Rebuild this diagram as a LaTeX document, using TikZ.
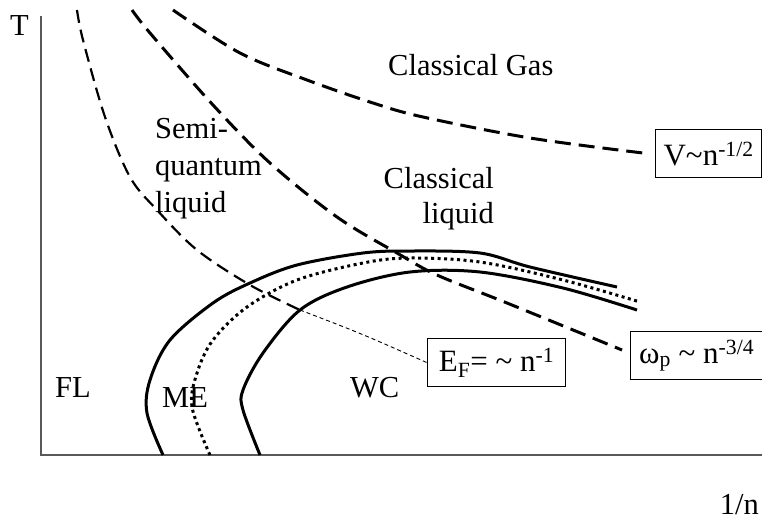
\documentclass[tikz,border=0pt]{standalone}
\usepackage{fontspec}
\setmainfont{Liberation Serif}
\begin{document}
\begin{tikzpicture}[x=1pt,y=-1pt,
  lbl/.style={font=\fontsize{30.5}{36}\selectfont, inner sep=0pt},
  bx/.style={draw, line width=1.3pt, font=\fontsize{31}{37}\selectfont, inner sep=0pt, anchor=north west, minimum height=48pt},
  axis/.style={line width=1.6pt, draw=black!65},
  thickdash/.style={line width=3pt, dash pattern=on 16pt off 8pt},
  thindash/.style={line width=2.2pt, dash pattern=on 13pt off 7pt},
  hairdash/.style={line width=0.9pt, dash pattern=on 4pt off 3pt},
  solidc/.style={line width=3pt},
  dotc/.style={line width=3pt, dash pattern=on 3pt off 3.5pt},
  smoothc/.style={smooth, tension=0.55}]
\useasboundingbox (0,0) rectangle (762,520);
\clip (0,0) rectangle (762,520);

% axes
\coordinate (o) at (41,455);
\coordinate (ytop) at (41,16);
\coordinate (xend) at (762,455);
\draw[axis] (ytop) -- (o) -- (xend);

% labels
\node[lbl, anchor=base west] (T) at (10,35) {T};
\node[lbl, anchor=base east] (xl) at (759,514) {1/n};
\node[lbl, anchor=base west] (gas) at (388,75) {Classical Gas};
\node[lbl, anchor=base west] (s1) at (155,138) {Semi-};
\node[lbl, anchor=base west] (s2) at (155,175) {quantum};
\node[lbl, anchor=base west] (s3) at (155,212) {liquid};
\node[lbl, anchor=base east] (c1) at (494,188) {Classical};
\node[lbl, anchor=base east] (c2) at (494,223) {liquid};
\node[lbl, anchor=base west] (fl) at (55,397) {FL};
\node[lbl, anchor=base west] (me) at (162,407) {ME};
\node[lbl, anchor=base west] (wc) at (350,397) {WC};

% boxes
\node[bx, minimum width=106pt] (vb) at (655,129) {V\textasciitilde n\textsuperscript{-1/2}};
\node[bx, minimum width=138pt] (ef) at (427,338) {E\textsubscript{F}= \textasciitilde{} n\textsuperscript{-1}};
\node[bx, minimum width=132pt] (wp) at (630,331) {ω\textsubscript{p} \textasciitilde{} n\textsuperscript{-3/4}};

% dashed crossover lines
\draw[thindash] plot[smoothc] coordinates {(77,10) (83,40) (105,117) (130,177) (157,210) (197,250) (250,285) (300,310)};
\coordinate (efstart) at (300,310);
\draw[hairdash] (efstart) .. controls (360,333) .. (ef.west);
\draw[thickdash] plot[smoothc] coordinates {(132,10) (150,33) (213,105) (270,163) (337,217) (397,253) (437,275) (507,303) (622,350)};
\draw[thickdash] plot[smoothc] coordinates {(173,10) (240,53) (307,80) (373,103) (423,117) (530,138) (643,153)};

% melting curves
\draw[solidc] plot[smoothc] coordinates {(163,455) (147,413) (150,380) (170,340) (213,303) (250,283) (297,265) (363,253) (410,251) (480,253) (530,267) (617,287)};
\draw[dotc] plot[smoothc] coordinates {(210,455) (192,407) (197,373) (213,340) (247,307) (297,280) (363,263) (410,258) (480,262) (563,280) (640,302)};
\draw[solidc] plot[smoothc] coordinates {(260,455) (243,410) (243,390) (263,353) (300,310) (347,287) (410,272) (480,272) (563,288) (637,310)};
\end{tikzpicture}
\end{document}
